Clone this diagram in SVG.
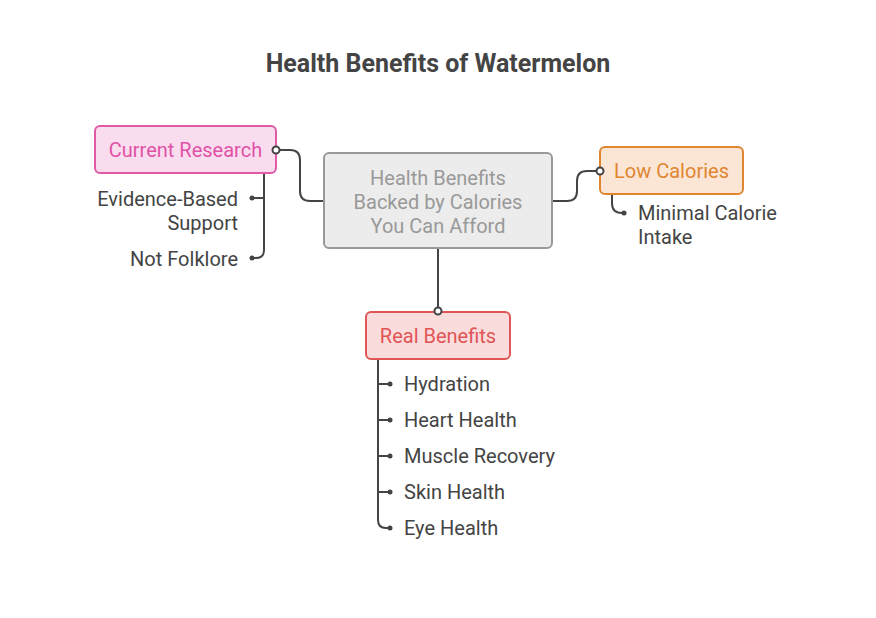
<svg xmlns="http://www.w3.org/2000/svg" width="876" height="618" viewBox="0 0 876 618">
<defs>
<style>
text{font-family:Roboto,"Liberation Sans",sans-serif;font-size:20px;}
.title{font-size:25px;font-weight:bold;fill:#444;}
.lbl{fill:#444;}
.conn{fill:none;stroke:#444;stroke-width:2;}
.dot{fill:#444;}
.ring{fill:#fff;stroke:#444;stroke-width:2;}
</style>
</defs>
<rect width="876" height="618" fill="#fff"/>
<text class="title" x="438" y="72" text-anchor="middle">Health Benefits of Watermelon</text>

<g id="center">
<rect x="324" y="153" width="228" height="95" rx="5" fill="#ececec" stroke="#999" stroke-width="2"/>
<text x="438" y="185" text-anchor="middle" fill="#999">Health Benefits</text>
<text x="438" y="209" text-anchor="middle" fill="#999">Backed by Calories</text>
<text x="438" y="233" text-anchor="middle" fill="#999">You Can Afford</text>
</g>

<g id="current-research">
<rect x="95" y="126" width="181" height="47" rx="5" fill="#fadcef" stroke="#e05aa8" stroke-width="2"/>
<text x="185.5" y="157" text-anchor="middle" fill="#e052a6">Current Research</text>
</g>
<g id="evidence">
<text class="lbl" x="238" y="206" text-anchor="end">Evidence-Based</text>
<text class="lbl" x="238" y="230" text-anchor="end">Support</text>
</g>
<g id="folklore">
<text class="lbl" x="238" y="266" text-anchor="end">Not Folklore</text>
</g>

<g id="low-calories">
<rect x="600" y="147" width="143" height="47" rx="5" fill="#fbe6d6" stroke="#e08530" stroke-width="2"/>
<text x="671.5" y="178" text-anchor="middle" fill="#e08530">Low Calories</text>
</g>
<g id="minimal">
<text class="lbl" x="638" y="220">Minimal Calorie</text>
<text class="lbl" x="638" y="244">Intake</text>
</g>

<g id="real-benefits">
<rect x="366" y="312" width="144" height="47" rx="5" fill="#fadcdc" stroke="#e05555" stroke-width="2"/>
<text x="438" y="343" text-anchor="middle" fill="#e05555">Real Benefits</text>
</g>
<g id="hydration"><text class="lbl" x="404" y="391">Hydration</text></g>
<g id="heart"><text class="lbl" x="404" y="427">Heart Health</text></g>
<g id="muscle"><text class="lbl" x="404" y="463">Muscle Recovery</text></g>
<g id="skin"><text class="lbl" x="404" y="499">Skin Health</text></g>
<g id="eye"><text class="lbl" x="404" y="535">Eye Health</text></g>

<g id="connectors">
<path class="conn" d="M276,150 H290 Q300,150 300,160 V191 Q300,201 310,201 H323"/>
<path class="conn" d="M553,201 H567 Q577,201 577,191 V181 Q577,171 587,171 H600"/>
<path class="conn" d="M438,249 V311"/>
<path class="conn" d="M264,174 V250 Q264,258 256,258 H252"/>
<path class="conn" d="M264,198 H252"/>
<path class="conn" d="M612,195 V203 Q612,213 622,213 H624"/>
<path class="conn" d="M378,360 V520 Q378,528 386,528 H390"/>
<path class="conn" d="M378,384 H390 M378,420 H390 M378,456 H390 M378,492 H390"/>
<circle class="ring" cx="276" cy="150" r="3.5"/>
<circle class="ring" cx="600" cy="171" r="3.5"/>
<circle class="ring" cx="438" cy="311" r="3.5"/>
<circle class="dot" cx="252" cy="198" r="2.5"/>
<circle class="dot" cx="252" cy="258" r="2.5"/>
<circle class="dot" cx="624" cy="213" r="2.5"/>
<circle class="dot" cx="390" cy="384" r="2.5"/>
<circle class="dot" cx="390" cy="420" r="2.5"/>
<circle class="dot" cx="390" cy="456" r="2.5"/>
<circle class="dot" cx="390" cy="492" r="2.5"/>
<circle class="dot" cx="390" cy="528" r="2.5"/>
</g>
</svg>
